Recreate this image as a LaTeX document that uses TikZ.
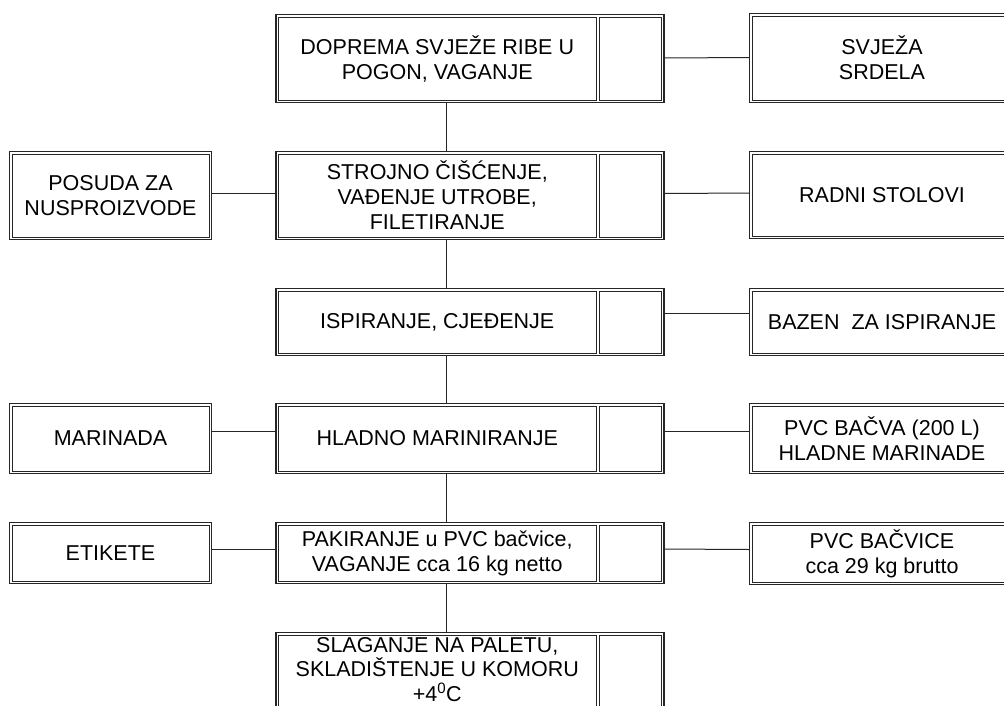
\documentclass[tikz,border=0pt]{standalone}
\usepackage{fontspec}
\setmainfont{Liberation Sans}
\usetikzlibrary{fit}
\begin{document}
\begin{tikzpicture}[x=1pt,y=-1pt,
  cell/.style={draw=black!85, line width=0.8pt, inner sep=0pt, outer sep=0pt,
    align=center, font=\fontsize{21.5}{25}\selectfont},
  frame/.style={draw=black!85, line width=1.8pt, inner sep=2.5pt, outer sep=0pt},
  link/.style={draw=black!85, line width=1pt},
  txt/.style={align=center, inner sep=0pt, font=\fontsize{21.5}{24.5}\selectfont}]
\useasboundingbox (0,0) rectangle (1004,705);
\fill[white] (0,0) rectangle (1004,705);
\clip (0,0) rectangle (1004,705);

% ---- main column: text cells and small cells ----
\node[cell, minimum width=317.5pt, minimum height=83pt] (m1) at (437.25,58.5) {DOPREMA SVJEŽE RIBE U\\POGON, VAGANJE};
\node[cell, minimum width=62.5pt, minimum height=83pt] (s1) at (630.25,58.5) {};
\node[frame, fit=(m1)(s1)] (o1) {};

\node[cell, minimum width=317.5pt, minimum height=83pt] (m2) at (437.25,195.5) {STROJNO ČIŠĆENJE,\\VAĐENJE UTROBE,\\FILETIRANJE};
\node[cell, minimum width=62.5pt, minimum height=83pt] (s2) at (630.25,195.5) {};
\node[frame, fit=(m2)(s2)] (o2) {};

\node[cell, minimum width=317.5pt, minimum height=62pt] (m3) at (437.25,322) {ISPIRANJE, CJEĐENJE};
\node[cell, minimum width=62.5pt, minimum height=62pt] (s3) at (630.25,322) {};
\node[frame, fit=(m3)(s3)] (o3) {};

\node[cell, minimum width=317.5pt, minimum height=65pt] (m4) at (437.25,438.5) {HLADNO MARINIRANJE};
\node[cell, minimum width=62.5pt, minimum height=65pt] (s4) at (630.25,438.5) {};
\node[frame, fit=(m4)(s4)] (o4) {};

\node[cell, minimum width=317.5pt, minimum height=56pt] (m5) at (437.25,553) {PAKIRANJE u PVC bačvice,\\VAGANJE cca 16 kg netto};
\node[cell, minimum width=62.5pt, minimum height=56pt] (s5) at (630.25,553) {};
\node[frame, fit=(m5)(s5)] (o5) {};

\node[cell, minimum width=317.5pt, minimum height=110pt] (m6) at (437.25,690) {};
\node[cell, minimum width=62.5pt, minimum height=110pt] (s6) at (630.25,690) {};
\node[frame, fit=(m6)(s6)] (o6) {};
\node[txt] (t6) at (437.25,669.5) {SLAGANJE NA PALETU,\\SKLADIŠTENJE U KOMORU\\+4\textsuperscript{0}C};

% ---- left boxes ----
\node[cell, minimum width=197pt, minimum height=83pt] (l2) at (110.5,195.5) {POSUDA ZA\\NUSPROIZVODE};
\node[frame, fit=(l2)] (lf2) {};
\node[cell, minimum width=197pt, minimum height=65pt] (l4) at (110.5,438.5) {MARINADA};
\node[frame, fit=(l4)] (lf4) {};
\node[cell, minimum width=197pt, minimum height=56pt] (l5) at (110.5,553) {ETIKETE};
\node[frame, fit=(l5)] (lf5) {};

% ---- right boxes ----
\node[cell, minimum width=260pt, minimum height=84pt] (r1) at (882,58) {SVJEŽA\\SRDELA};
\node[frame, fit=(r1)] (rf1) {};
\node[cell, minimum width=260pt, minimum height=82pt] (r2) at (882,195) {RADNI STOLOVI};
\node[frame, fit=(r2)] (rf2) {};
\node[cell, minimum width=260pt, minimum height=62pt] (r3) at (882,322) {BAZEN\ \ ZA ISPIRANJE};
\node[frame, fit=(r3)] (rf3) {};
\node[cell, minimum width=260pt, minimum height=65pt] (r4) at (882,438.5) {PVC BAČVA (200 L)\\HLADNE MARINADE};
\node[frame, fit=(r4)] (rf4) {};
\node[cell, minimum width=260pt, minimum height=57pt] (r5) at (882,553.5) {PVC BAČVICE\\cca 29 kg brutto};
\node[frame, fit=(r5)] (rf5) {};

% ---- vertical connectors ----
\foreach \a/\b in {o1/o2,o2/o3,o3/o4,o4/o5,o5/o6}
  \draw[link] ([xshift=170pt]\a.south west) -- ([xshift=170pt]\b.north west);

% ---- horizontal connectors ----
\draw[link] ([yshift=0.5pt]o1.east) -- ([yshift=0.5pt]rf1.west);
\draw[link] ([yshift=2pt]lf2.east) -- ([yshift=2pt]o2.west);
\draw[link] ([yshift=2pt]o2.east) -- ([yshift=2pt]rf2.west);
\draw[link] ([yshift=9pt]o3.east) -- ([yshift=9pt]rf3.west);
\draw[link] ([yshift=7.5pt]lf4.east) -- ([yshift=7.5pt]o4.west);
\draw[link] ([yshift=7pt]o4.east) -- ([yshift=7pt]rf4.west);
\draw[link] ([yshift=4pt]lf5.east) -- ([yshift=4pt]o5.west);
\draw[link] ([yshift=4pt]o5.east) -- ([yshift=4pt]rf5.west);
\end{tikzpicture}
\end{document}
